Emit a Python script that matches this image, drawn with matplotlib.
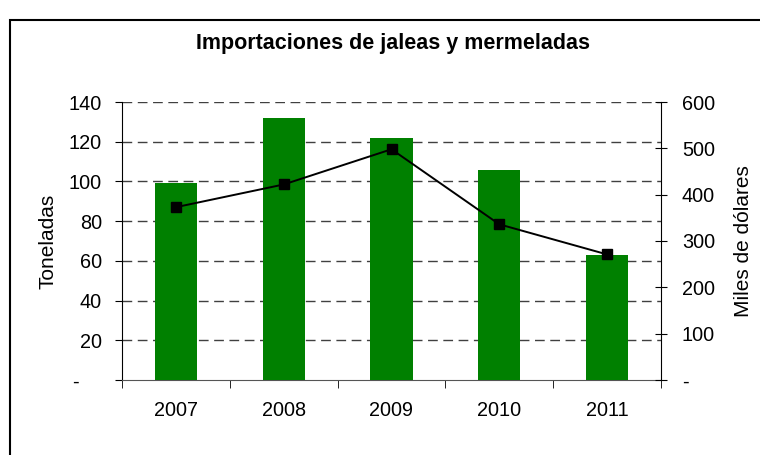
import matplotlib
matplotlib.use("Agg")
import matplotlib.pyplot as plt
from matplotlib.patches import Rectangle
import numpy as np

years = ["2007", "2008", "2009", "2010", "2011"]
toneladas = [99, 132, 122, 106, 63]
miles_usd = [373, 422, 498, 336, 271]
left_ticks = [0, 20, 40, 60, 80, 100, 120, 140]
left_labels = ["-    ", "20", "40", "60", "80", "100", "120", "140"]
right_ticks = [0, 100, 200, 300, 400, 500, 600]
right_labels = ["-", "100", "200", "300", "400", "500", "600"]

plt.rcParams['font.family'] = ['Liberation Sans', 'DejaVu Sans']

W, H = 760, 455
fig = plt.figure(figsize=(W/100, H/100), dpi=100)
ax = fig.add_axes([122/W, 1-380/H, (661-122)/W, (380-102)/H])

x = np.arange(len(years))
ax.bar(x, toneladas, width=0.39, color="#008000", zorder=3)
ax.set_xlim(-0.5, len(years)-0.5)
ax.set_ylim(0, 140)
ax.set_yticks(left_ticks)
ax.set_yticklabels(left_labels, fontsize=14.3)
ax.set_xticks(x)
ax.set_xticklabels(years, fontsize=14.3)
ax.tick_params(axis='x', length=0, pad=15)
ax.set_xticks(np.arange(-0.5, len(years)), minor=True)
ax.tick_params(axis='x', which='minor', length=6, direction='out', color='black')
ax.tick_params(axis='y', length=5, direction='out', pad=9.5)
for yv in left_ticks[1:]:
    ax.axhline(yv, color="#404040", lw=1.0, ls=(0, (7, 4)), zorder=1)
ax.spines['top'].set_visible(False)
ax.spines['right'].set_visible(False)
ax.spines['bottom'].set_color('#555555')
ax.spines['left'].set_color('black')
ax.set_ylabel("Toneladas", fontsize=15, labelpad=8)

ax2 = ax.twinx()
ax2.plot(x, miles_usd, color='black', lw=1.4, marker='s', markersize=7, zorder=5)
ax2.set_ylim(0, 600)
ax2.set_yticks(right_ticks)
ax2.set_yticklabels(right_labels, fontsize=14.3)
ax2.tick_params(axis='y', length=9, direction='inout', pad=10.5)
for s in ['top', 'left', 'bottom']:
    ax2.spines[s].set_visible(False)
ax2.spines['right'].set_color('black')
ax2.set_ylabel("Miles de dólares", fontsize=15, labelpad=14)

fig.text(393/W, 1-43/H, "Importaciones de jaleas y mermeladas", ha='center', va='center',
         fontsize=15.5, fontweight='bold')

fig.patches.append(Rectangle((10/W, -0.1), 1.2, 1-20/H+0.1, transform=fig.transFigure,
                             fill=False, edgecolor='black', lw=1.5))

fig.savefig("out.png", dpi=100)
